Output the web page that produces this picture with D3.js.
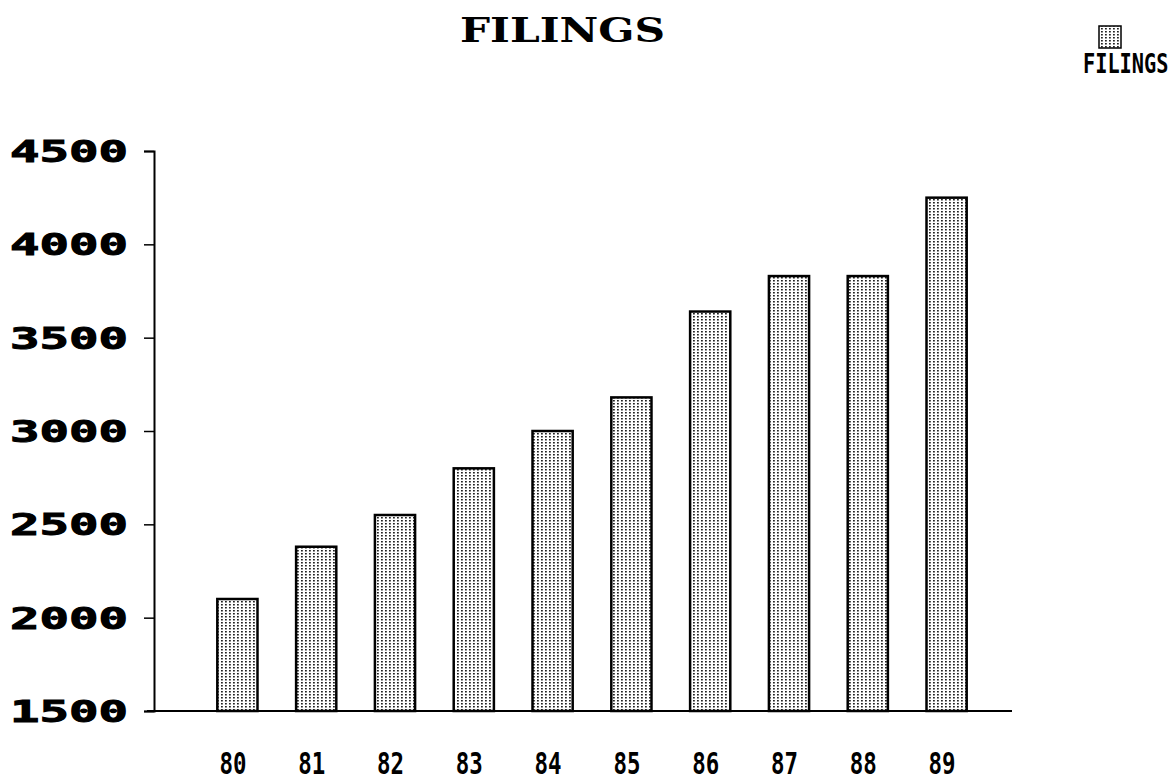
<!DOCTYPE html>
<html>
<head>
<meta charset="utf-8">
<script src="https://cdn.jsdelivr.net/npm/d3@7/dist/d3.min.js"></script>
<style>
  html, body { margin: 0; padding: 0; background: #fff; }
  svg { display: block; }
</style>
</head>
<body>
<svg id="chart" width="1176" height="782"></svg>
<script>
// Yearly filings, 1980-1989
const years = ["80", "81", "82", "83", "84", "85", "86", "87", "88", "89"];
const filings = [2100, 2380, 2550, 2800, 3000, 3180, 3640, 3830, 3830, 4250];
const yTicks = [1500, 2000, 2500, 3000, 3500, 4000, 4500];
const seriesName = "FILINGS";
const chartTitle = "FILINGS";

const svg = d3.select("#chart");

// stippled fill used by the bars and the legend swatch
const defs = svg.append("defs");
const pat = defs.append("pattern")
  .attr("id", "stipple")
  .attr("patternUnits", "userSpaceOnUse")
  .attr("width", 4).attr("height", 3);
pat.append("rect").attr("width", 4).attr("height", 3).attr("fill", "#ffffff");
pat.append("rect").attr("x", 1).attr("y", 1).attr("width", 1.8).attr("height", 1.5).attr("fill", "#222");

const y = d3.scaleLinear().domain([1500, 4500]).range([711, 151]);
const x = d3.scaleBand().domain(years).range([198, 986])
  .paddingInner(0.49).paddingOuter(0.245);

// title
svg.append("text")
  .attr("x", 460).attr("y", 42)
  .attr("textLength", 205).attr("lengthAdjust", "spacingAndGlyphs")
  .style("font-family", "'DejaVu Serif', 'Liberation Serif', serif")
  .style("font-weight", "bold").style("font-size", "33px")
  .text(chartTitle);

// bars
svg.append("g").selectAll("rect")
  .data(years.map((yr, i) => ({ yr, v: filings[i] })))
  .join("rect")
  .attr("x", d => x(d.yr))
  .attr("y", d => y(d.v))
  .attr("width", x.bandwidth())
  .attr("height", d => y(1500) - y(d.v))
  .attr("fill", "url(#stipple)")
  .attr("stroke", "#000").attr("stroke-width", 2.5);

// y axis
const yAxis = svg.append("g").attr("transform", "translate(154,0)")
  .call(d3.axisLeft(y).tickValues(yTicks).tickSize(10).tickFormat(""));
yAxis.select(".domain").attr("stroke", "#000").attr("stroke-width", 2);
yAxis.selectAll(".tick line").attr("stroke", "#000").attr("stroke-width", 1.5);

svg.append("g").selectAll("text")
  .data(yTicks).join("text")
  .attr("x", 10).attr("y", d => y(d) + 11)
  .attr("textLength", 118).attr("lengthAdjust", "spacingAndGlyphs")
  .style("font-family", "'DejaVu Sans Mono', monospace")
  .style("font-weight", "bold").style("font-size", "31px")
  .style("stroke", "#000").style("stroke-width", 1)
  .text(d => d);

// baseline
svg.append("line")
  .attr("x1", 147).attr("x2", 1012)
  .attr("y1", y(1500)).attr("y2", y(1500))
  .attr("stroke", "#000").attr("stroke-width", 2);

// x labels
svg.append("g").selectAll("text")
  .data(years).join("text")
  .attr("x", d => x(d) + x.bandwidth() / 2 - 18)
  .attr("y", 774)
  .attr("textLength", 27).attr("lengthAdjust", "spacingAndGlyphs")
  .style("font-family", "'DejaVu Sans Mono', monospace")
  .style("font-weight", "bold").style("font-size", "31px")
  .text(d => d);

// legend: swatch above a horizontally condensed label
svg.append("rect")
  .attr("x", 1099).attr("y", 26).attr("width", 22).attr("height", 22)
  .attr("fill", "url(#stipple)").attr("stroke", "#000").attr("stroke-width", 1.5);
svg.append("text")
  .attr("transform", "translate(1083,73) scale(0.78,1)")
  .style("font-family", "'DejaVu Sans Mono', monospace")
  .style("font-weight", "bold").style("font-size", "26px")
  .text(seriesName);
</script>
</body>
</html>
